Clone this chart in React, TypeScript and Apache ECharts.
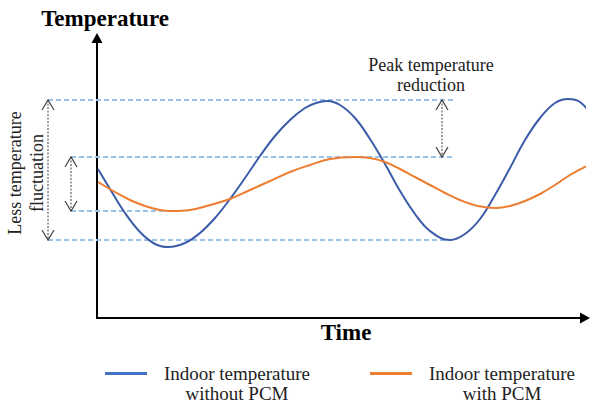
import React, { useEffect, useRef } from "react";
import * as echarts from "echarts";

// Time (arbitrary units) and temperature (arbitrary units)
const blueTime = [1, 13, 28, 43, 58, 71, 88, 103, 118, 133, 148, 163, 178, 193, 208, 219, 230, 243, 258, 273, 288, 303, 318, 333, 353, 368, 383, 398, 413, 428, 443, 458, 471, 483, 496];
const blueTemp = [149, 129, 105, 86, 74, 71, 75, 85, 100, 119, 140, 162, 182, 198, 210, 215, 217, 213, 200, 179, 154, 127, 104, 87, 78, 84, 99, 123, 150, 178, 200, 215, 219, 216, 201];

const orangeTime = [1, 18, 33, 48, 63, 75, 93, 113, 133, 153, 173, 193, 213, 233, 258, 273, 288, 303, 318, 333, 348, 363, 381, 399, 413, 428, 443, 458, 473, 496];
const orangeTemp = [136, 126, 118, 112, 108, 107, 108, 113, 119, 128, 137, 146, 153, 159, 161, 160, 156, 149, 141, 133, 125, 118, 112, 110, 112, 117, 124, 133, 143, 155];

const seriesNames = ["Indoor temperature without PCM", "Indoor temperature with PCM"];
const legendLines = [
  ["Indoor temperature", "without PCM"],
  ["Indoor temperature", "with PCM"],
];

// Reference levels (temperature) for dashed guide lines
const levelBlueMax = 218;
const levelOrangeMax = 161;
const levelOrangeMin = 107;
const levelBlueMin = 78;

const FONT = '"Liberation Serif", "Times New Roman", serif';
const BLUE = "#3B5CA8";
const ORANGE = "#ED7D31";
const GUIDE = "#9DC3E6";
const ARROW = "#404040";

export default function App() {
  const ref = useRef<HTMLDivElement>(null);

  useEffect(() => {
    document.body.style.margin = "0";
    if (!ref.current) return;
    const chart = echarts.init(ref.current, null, { renderer: "svg" });
    const pair = (ts: number[], vs: number[]) => ts.map((t, i) => [t, vs[i]]);

    chart.setOption({
      animation: false,
      backgroundColor: "#fff",
      grid: { left: 97, right: 8, top: 38, bottom: 88 },
      xAxis: {
        type: "value",
        min: 0,
        max: 488,
        name: "Time",
        nameLocation: "middle",
        nameGap: 3,
        nameTextStyle: { fontFamily: FONT, fontWeight: "bold", fontSize: 23, color: "#000", verticalAlign: "top", padding: [0, 0, 0, 10] },
        axisLine: { show: true, symbol: ["none", "triangle"], symbolSize: [11, 10], lineStyle: { color: "#000", width: 2 } },
        axisTick: { show: false },
        axisLabel: { show: false },
        splitLine: { show: false },
      },
      yAxis: {
        type: "value",
        min: 0,
        max: 280,
        name: "Temperature",
        nameLocation: "end",
        nameGap: 8,
        nameTextStyle: { fontFamily: FONT, fontWeight: "bold", fontSize: 23, color: "#000", padding: [0, 0, 0, 16] },
        axisLine: { show: true, symbol: ["none", "triangle"], symbolSize: [11, 10], lineStyle: { color: "#000", width: 2 } },
        axisTick: { show: false },
        axisLabel: { show: false },
        splitLine: { show: false },
      },
      legend: {
        left: 105,
        top: 344,
        padding: 0,
        icon: "rect",
        itemWidth: 42,
        itemHeight: 3,
        itemGap: 48,
        data: [
          { name: seriesNames[0], itemStyle: { color: "#4472C4" } },
          { name: seriesNames[1], itemStyle: { color: ORANGE } },
        ],
        formatter: (name: string) => {
          const idx = seriesNames.indexOf(name);
          const l = legendLines[idx];
          return "{e| }\n{a|" + l[0] + "}\n{a|" + l[1] + "}";
        },
        textStyle: {
          rich: {
            a: { width: 170, align: "center", fontFamily: FONT, fontSize: 19, lineHeight: 20, color: "#222" },
            e: { fontFamily: FONT, fontSize: 19, lineHeight: 20 },
          },
        },
      },
      series: [
        {
          name: seriesNames[0],
          type: "line",
          data: pair(blueTime, blueTemp),
          smooth: 0.4,
          symbol: "none",
          clip: false,
          silent: true,
          z: 3,
          lineStyle: { color: BLUE, width: 2 },
          itemStyle: { color: BLUE },
        },
        {
          name: seriesNames[1],
          type: "line",
          data: pair(orangeTime, orangeTemp),
          smooth: 0.4,
          symbol: "none",
          clip: false,
          silent: true,
          z: 3,
          lineStyle: { color: ORANGE, width: 2 },
          itemStyle: { color: ORANGE },
        },
      ],
    });

    const px = (t: number, v: number) => chart.convertToPixel({ gridIndex: 0 }, [t, v]) as number[];

    const dashed = (t1: number, t2: number, v: number) => {
      const a = px(t1, v);
      const b = px(t2, v);
      return {
        type: "line",
        z: 1,
        silent: true,
        shape: { x1: a[0], y1: a[1], x2: b[0], y2: b[1] },
        style: { stroke: GUIDE, lineWidth: 2, lineDash: [5, 3] },
      };
    };

    const dblArrow = (t: number, vTop: number, vBot: number) => {
      const a = px(t, vTop);
      const b = px(t, vBot);
      const x = a[0];
      const hw = 6;
      const hh = 10;
      return [
        {
          type: "line",
          z: 4,
          silent: true,
          shape: { x1: x, y1: a[1], x2: x, y2: b[1] },
          style: { stroke: ARROW, lineWidth: 1, lineDash: [2, 1.5] },
        },
        {
          type: "polyline",
          z: 4,
          silent: true,
          shape: { points: [[x - hw, a[1] + hh], [x, a[1]], [x + hw, a[1] + hh]] },
          style: { stroke: ARROW, lineWidth: 1.2, fill: null },
        },
        {
          type: "polyline",
          z: 4,
          silent: true,
          shape: { points: [[x - hw, b[1] - hh], [x, b[1]], [x + hw, b[1] - hh]] },
          style: { stroke: ARROW, lineWidth: 1.2, fill: null },
        },
      ];
    };

    const graphic: any[] = [
      dashed(-49, 356, levelBlueMax),
      dashed(-26, 356, levelOrangeMax),
      dashed(-26, 73, levelOrangeMin),
      dashed(-49, 356, levelBlueMin),
      ...dblArrow(-49, levelBlueMax, levelBlueMin),
      ...dblArrow(-26, levelOrangeMax, levelOrangeMin),
      ...dblArrow(345, levelBlueMax, levelOrangeMax),
      {
        type: "text",
        x: 26,
        y: 173,
        rotation: Math.PI / 2,
        silent: true,
        style: {
          text: "Less temperature\nfluctuation",
          fontFamily: FONT,
          fontSize: 18,
          lineHeight: 22,
          fill: "#222",
          align: "center",
          verticalAlign: "middle",
        },
      },
      {
        type: "text",
        x: 431,
        y: 74.5,
        silent: true,
        style: {
          text: "Peak temperature\nreduction",
          fontFamily: FONT,
          fontSize: 18,
          lineHeight: 20,
          fill: "#222",
          align: "center",
          verticalAlign: "middle",
        },
      },
    ];

    chart.setOption({ graphic });

    return () => chart.dispose();
  }, []);

  return <div ref={ref} style={{ width: 593, height: 406 }} />;
}
